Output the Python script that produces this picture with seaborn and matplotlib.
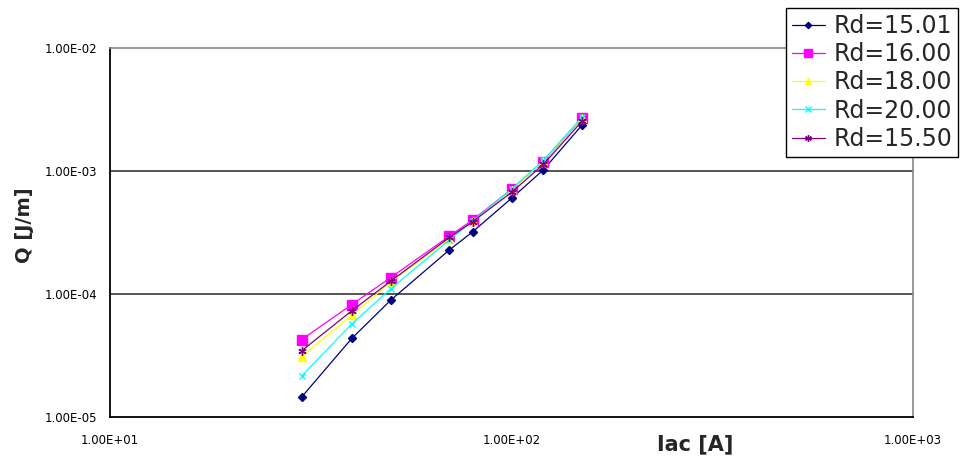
import matplotlib
matplotlib.use("Agg")
import matplotlib.pyplot as plt
import matplotlib.ticker as mticker
import seaborn as sns
import pandas as pd

# Arc current (A)
iac = [30, 40, 50, 70, 80, 100, 120, 150]

# Heat per unit length Q (J/m) for each Rd value
q_1501 = [1.45e-5, 4.35e-5, 8.9e-5, 2.28e-4, 3.2e-4, 6.0e-4, 1.02e-3, 2.37e-3]
q_1600 = [4.25e-5, 8.2e-5, 1.36e-4, 2.95e-4, 4.0e-4, 7.1e-4, 1.19e-3, 2.70e-3]
q_1800 = [3.1e-5, 6.7e-5, 1.25e-4, 2.8e-4, 3.9e-4, 7.0e-4, 1.20e-3, 2.72e-3]
q_2000 = [2.15e-5, 5.7e-5, 1.1e-4, 2.75e-4, 3.9e-4, 7.1e-4, 1.22e-3, 2.75e-3]
q_1550 = [3.45e-5, 7.3e-5, 1.27e-4, 2.88e-4, 3.87e-4, 6.7e-4, 1.13e-3, 2.55e-3]

series_labels = ["Rd=15.01", "Rd=16.00", "Rd=18.00", "Rd=20.00", "Rd=15.50"]
series_values = [q_1501, q_1600, q_1800, q_2000, q_1550]

x_ticks = [10, 100, 1000]
y_ticks = [1e-5, 1e-4, 1e-3, 1e-2]

colors = ["#000080", "#FF00FF", "#FFFF00", "#00FFFF", "#800080"]
markers = ["D", "s", "^", "x", (6, 2, 0)]
msizes = [4, 7, 6, 5, 6]

sns.set_style("white")
plt.rcParams["font.family"] = ["DejaVu Sans"]

fig = plt.figure(figsize=(9.66, 4.61), dpi=100)
W, H = 966, 461
ax = fig.add_axes([110 / W, 1 - 417 / H, (913 - 110) / W, (417 - 48) / H])

frames = []
for lab, vals in zip(series_labels, series_values):
    frames.append(pd.DataFrame({"Iac": iac, "Q": vals, "series": lab}))
df = pd.concat(frames, ignore_index=True)

for lab, col, mk, ms in zip(series_labels, colors, markers, msizes):
    sub = df[df["series"] == lab]
    sns.lineplot(data=sub, x="Iac", y="Q", ax=ax, color=col, marker=mk,
                 markersize=ms, markeredgecolor=col, markerfacecolor=col,
                 markeredgewidth=1.0, linewidth=0.9, label=lab,
                 estimator=None, sort=False)

ax.set_xscale("log")
ax.set_yscale("log")
ax.set_xlim(10, 1000)
ax.set_ylim(1e-5, 1e-2)

ax.xaxis.set_major_locator(mticker.FixedLocator(x_ticks))
ax.yaxis.set_major_locator(mticker.FixedLocator(y_ticks))
ax.xaxis.set_minor_locator(mticker.NullLocator())
ax.yaxis.set_minor_locator(mticker.NullLocator())
fmt = mticker.FuncFormatter(lambda v, p: f"{v:.2E}")
ax.xaxis.set_major_formatter(fmt)
ax.yaxis.set_major_formatter(fmt)

ax.tick_params(axis="both", which="major", direction="out", length=4,
               width=1, color="black", labelsize=8.5, labelcolor="black")
ax.tick_params(axis="x", pad=8)
ax.tick_params(axis="y", pad=5)

# horizontal gridlines only
for yv in [1e-4, 1e-3]:
    ax.axhline(yv, color="#555555", linewidth=1.4, zorder=0.5)

for side in ["left", "bottom"]:
    ax.spines[side].set_color("black")
    ax.spines[side].set_linewidth(1.3)
for side in ["top", "right"]:
    ax.spines[side].set_visible(True)
    ax.spines[side].set_color("#888888")
    ax.spines[side].set_linewidth(1.2)

ax.set_xlabel("Iac [A]", fontsize=15, fontweight="bold")
ax.set_ylabel("Q [J/m]", fontsize=14, fontweight="bold")
ax.xaxis.set_label_coords((695 - 110) / 803, -(444 - 417) / 369)
ax.xaxis.label.set_va("center")
ax.yaxis.set_label_coords((24 - 110) / 803, (417 - 225) / 369)
ax.yaxis.label.set_va("center")

leg = ax.legend(loc="upper left", bbox_to_anchor=(786 / W, 1 - 8 / H),
                bbox_transform=fig.transFigure, borderaxespad=0,
                fontsize=17, frameon=True, fancybox=False,
                edgecolor="black", framealpha=1, handlelength=1.4,
                handletextpad=0.35, labelspacing=0.18, borderpad=0.25,
                markerscale=0.8)
leg.get_frame().set_linewidth(1.0)

fig.savefig("out.png", dpi=100, facecolor="white")
